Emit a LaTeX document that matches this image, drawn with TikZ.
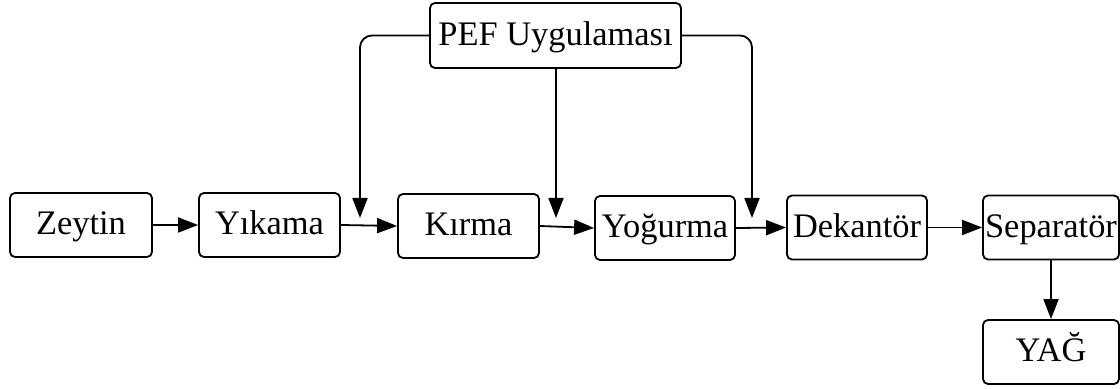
\documentclass[tikz,border=0pt]{standalone}
\usepackage{fontspec}
\setmainfont{Liberation Serif}
\usetikzlibrary{arrows.meta}
\begin{document}
\begin{tikzpicture}[x=0.5pt,y=-0.5pt,
  box/.style={draw, line width=0.9pt, rounded corners=2.5pt, inner sep=0pt,
    minimum height=32pt, text height=13pt, text depth=3pt,
    font=\fontsize{17.2}{20}\selectfont},
  flow/.style={line width=0.9pt, -{Triangle[length=10pt,width=7.5pt]}},
  feed/.style={line width=0.9pt, rounded corners=6pt, -{Triangle[length=10pt,width=7.5pt]}}]
\useasboundingbox (0,0) rectangle (1120,389);
\node[box, minimum width=71pt]   (zey) at (81,225)    {Zeytin};
\node[box, minimum width=70.5pt] (yik) at (269.5,225) {Yıkama};
\node[box, minimum width=70.5pt] (kir) at (468.5,226) {Kırma};
\node[box, minimum width=70pt]   (yog) at (665,228)   {Yoğurma};
\node[box, minimum width=70pt]   (dek) at (857,227.5) {Dekantör};
\node[box, minimum width=68pt]   (sep) at (1051,227.5){Separatör};
\node[box, minimum width=68pt]   (yag) at (1051,352)  {YAĞ};
\node[box, minimum width=125.5pt, minimum height=32.5pt] (pef) at (555.5,35.5) {PEF Uygulaması};
\coordinate (c1) at (360,218);
\coordinate (c2) at (556,218);
\coordinate (c3) at (752,218);
\draw[flow] (zey.east) -- (yik.west);
\draw[flow] (yik.east) -- (kir.west);
\draw[flow] (kir.east) -- (yog.west);
\draw[flow] (yog.east) -- (dek.west);
\draw[flow] (dek.east) -- (sep.west);
\draw[flow] (sep.south) -- (yag.north);
\draw[feed] (pef.west) -| (c1);
\draw[feed] (pef.east) -| (c3);
\draw[flow] (pef.south -| c2) -- (c2);
\end{tikzpicture}
\end{document}
